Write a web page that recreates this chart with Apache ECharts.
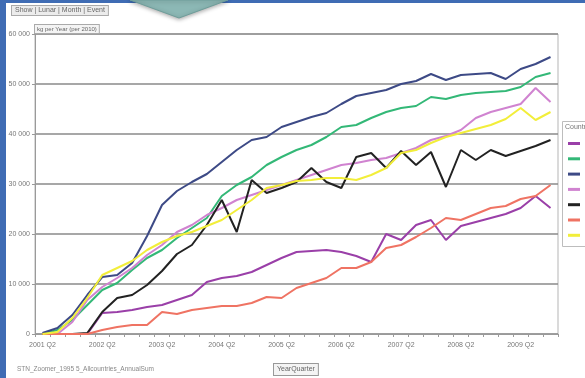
<!DOCTYPE html>
<html>
<head>
<meta charset="utf-8">
<script src="https://cdn.jsdelivr.net/npm/echarts@6/dist/echarts.min.js"></script>
<style>
  html, body { margin: 0; padding: 0; background: #ffffff; }
  #chart { width: 585px; height: 378px; }
</style>
</head>
<body>
<div id="chart"></div>
<script>
// Quarterly categories on the x axis
const quarters = [
  '2001 Q2','2001 Q3','2001 Q4','2002 Q1','2002 Q2','2002 Q3','2002 Q4','2003 Q1',
  '2003 Q2','2003 Q3','2003 Q4','2004 Q1','2004 Q2','2004 Q3','2004 Q4','2005 Q1',
  '2005 Q2','2005 Q3','2005 Q4','2006 Q1','2006 Q2','2006 Q3','2006 Q4','2007 Q1',
  '2007 Q2','2007 Q3','2007 Q4','2008 Q1','2008 Q2','2008 Q3','2008 Q4','2009 Q1',
  '2009 Q2','2009 Q3','2009 Q4'
];

// Cumulative kg per country
const countryNames = ['Belgium', 'Denmark', 'Finland', 'France', 'Germany', 'Italy', 'Sweden'];
const seriesColors = ['#9a3fa8', '#33b877', '#3d4a86', '#d083d0', '#222222', '#ef7363', '#f2ee3a'];

const purpleVals = [0,0,0,0,4200,4400,4800,5400,5800,6800,7800,10400,11200,11600,12400,13800,
  15200,16400,16600,16800,16400,15600,14400,20000,18800,21800,22800,18800,21600,22400,23200,24000,
  25200,27600,25200];
const greenVals = [0,800,2800,5800,8800,10200,12800,15200,16800,19200,21200,23200,27600,29800,31400,33800,
  35400,36800,37800,39400,41400,41800,43200,44400,45200,45600,47400,47000,47800,48200,48400,48600,
  49400,51400,52200];
const navyVals = [200,1200,3800,7800,11400,11800,14200,19600,25800,28600,30400,32000,34400,36800,38800,39400,
  41400,42400,43400,44200,46000,47600,48200,48800,50000,50600,52000,50800,51800,52000,52200,51000,
  53000,54000,55400];
const pinkVals = [0,0,2400,6800,9400,11200,13200,15800,17800,20400,21800,23800,25200,26800,27800,28800,
  29800,30800,31800,32800,33800,34200,34800,35200,36200,37200,38800,39600,40800,43200,44400,45200,
  46000,49200,46400];
const blackVals = [0,0,0,200,4400,7200,7800,9800,12600,16000,17800,21800,26800,20400,30800,28200,
  29200,30400,33200,30400,29200,35400,36200,33200,36600,33800,36400,29400,36800,34800,36800,35600,
  36600,37600,38800];
const salmonVals = [0,0,0,0,800,1400,1800,1800,4400,4000,4800,5200,5600,5600,6200,7400,
  7200,9200,10200,11200,13200,13200,14400,17200,17800,19400,21200,23200,22800,24000,25200,25600,
  27000,27600,29800];
const yellowVals = [0,400,3200,7200,11800,13200,14600,16800,18400,19600,20400,21600,22800,24800,26800,29200,
  29800,30600,30800,31200,31200,30800,31800,33200,36200,36800,38200,39400,40200,41000,41800,43000,
  45200,42800,44400];

const seriesValues = [purpleVals, greenVals, navyVals, pinkVals, blackVals, salmonVals, yellowVals];

const chart = echarts.init(document.getElementById('chart'), null, { renderer: 'canvas' });

const labelFont = 'Liberation Sans, Arial, sans-serif';

chart.setOption({
  animation: false,
  backgroundColor: '#ffffff',
  grid: {
    left: 35, right: 27, top: 34, bottom: 44,
    show: true, borderColor: '#b5b5b5', borderWidth: 1, backgroundColor: 'transparent'
  },
  legend: {
    orient: 'vertical',
    left: 563, top: 134,
    icon: 'rect',
    itemWidth: 12, itemHeight: 3,
    itemGap: 6.3,
    textStyle: { fontSize: 7, color: '#666', fontFamily: labelFont, lineHeight: 9 },
    data: countryNames
  },
  xAxis: {
    type: 'category',
    data: quarters,
    boundaryGap: true,
    axisLine: { lineStyle: { color: '#9a9a9a', width: 1 } },
    axisTick: { show: true, interval: 0, length: 3, lineStyle: { color: '#9a9a9a' } },
    axisLabel: { interval: 3, fontSize: 7, color: '#777', fontFamily: labelFont, margin: 8 }
  },
  yAxis: {
    type: 'value',
    min: 0, max: 60000, interval: 10000,
    axisLine: { show: true, lineStyle: { color: '#9a9a9a', width: 1 } },
    axisTick: { show: true, length: 3, lineStyle: { color: '#9a9a9a' } },
    axisLabel: {
      fontSize: 7, color: '#777', fontFamily: labelFont, margin: 5,
      formatter: v => v === 0 ? '0' : (v / 1000) + ' 000'
    },
    splitLine: { lineStyle: { color: '#8a8a8a', width: 1.5 } }
  },
  series: countryNames.map((name, k) => ({
    name,
    type: 'line',
    data: seriesValues[k],
    symbol: 'none',
    color: seriesColors[k],
    lineStyle: { width: 2, color: seriesColors[k] }
  })),
  graphic: [
    // page frame
    { type: 'rect', shape: { x: 0, y: 0, width: 585, height: 3 }, style: { fill: '#3f6cb4' }, z: 100 },
    { type: 'rect', shape: { x: 0, y: 0, width: 6, height: 378 }, style: { fill: '#3f6cb4' }, z: 100 },
    {
      type: 'polygon', z: 101,
      shape: { points: [[130, 0], [228, 0], [179, 18]] },
      style: { fill: '#8cb8b5', stroke: '#6e9d9a', lineWidth: 1, shadowBlur: 4, shadowColor: 'rgba(0,0,0,0.35)', shadowOffsetY: 1 }
    },
    // toolbar and header boxes
    {
      type: 'text', left: 11, top: 5, z: 100,
      style: {
        text: 'Show | Lunar | Month | Event', font: '7px ' + labelFont, fill: '#666',
        backgroundColor: '#ececec', borderColor: '#aaaaaa', borderWidth: 1, padding: [1, 3]
      }
    },
    {
      type: 'text', left: 34, top: 24, z: 100,
      style: {
        text: 'kg per Year (per 2010)', font: '6px ' + labelFont, fill: '#666',
        backgroundColor: '#f4f4f4', borderColor: '#aaaaaa', borderWidth: 1, padding: [1, 2]
      }
    },
    // footer
    {
      type: 'text', left: 17, top: 366, z: 100,
      style: { text: 'STN_Zoomer_1995 5_Allcountries_AnnualSum', font: '6.5px ' + labelFont, fill: '#888' }
    },
    {
      type: 'text', left: 273, top: 363, z: 100,
      style: {
        text: 'YearQuarter', font: '7px ' + labelFont, fill: '#666',
        backgroundColor: '#f4f4f4', borderColor: '#999999', borderWidth: 1, padding: [2, 3]
      }
    },
    // legend frame and title
    {
      type: 'rect', z: 50,
      shape: { x: 562.5, y: 121.5, width: 40, height: 125 },
      style: { fill: 'transparent', stroke: '#bdbdbd', lineWidth: 1 }
    },
    {
      type: 'text', left: 565, top: 124, z: 100,
      style: { text: 'Country', font: '7px ' + labelFont, fill: '#777' }
    }
  ]
});
</script>
</body>
</html>
